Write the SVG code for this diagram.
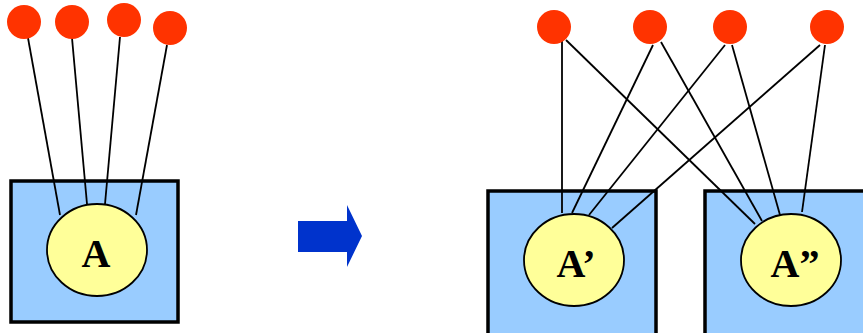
<svg xmlns="http://www.w3.org/2000/svg" width="863" height="333" viewBox="0 0 863 333">
<style>
.box{fill:#99ccff;stroke:#000;stroke-width:3.5}
.ell{fill:#ffff99;stroke:#000;stroke-width:1.8}
.dot{fill:#ff3300}
.lbl{font-family:"Liberation Serif","Times New Roman",serif;font-weight:bold;font-size:40px;fill:#000;text-anchor:middle}
.con line{stroke:#000;stroke-width:1.8}
</style>
<rect width="863" height="333" fill="#fff"/>
<g id="boxA"><rect class="box" x="11" y="181" width="167" height="141"/></g>
<g id="boxA1"><rect class="box" x="488" y="191" width="168" height="150"/></g>
<g id="boxA2"><rect class="box" x="705" y="191" width="168" height="150"/></g>
<g id="connectors" class="con">
<line x1="28" y1="38" x2="60" y2="215"/>
<line x1="72" y1="38" x2="87" y2="204"/>
<line x1="120" y1="37" x2="105" y2="204"/>
<line x1="167" y1="45" x2="136" y2="215"/>
<line x1="562" y1="40" x2="562" y2="213"/>
<line x1="566" y1="40" x2="755" y2="224"/>
<line x1="653" y1="45" x2="572" y2="213"/>
<line x1="661" y1="42" x2="762" y2="221"/>
<line x1="725" y1="45" x2="589" y2="215"/>
<line x1="732" y1="45" x2="780" y2="215"/>
<line x1="820" y1="45" x2="612" y2="228"/>
<line x1="825" y1="45" x2="802" y2="212"/>
</g>
<g id="nodeA"><ellipse class="ell" cx="97" cy="250" rx="50" ry="46"/><text class="lbl" x="96" y="267">A</text></g>
<g id="nodeA1"><ellipse class="ell" cx="574" cy="260" rx="50" ry="46"/><text class="lbl" x="576" y="277">A’</text></g>
<g id="nodeA2"><ellipse class="ell" cx="791" cy="260" rx="50" ry="46"/><text class="lbl" x="795" y="277">A”</text></g>
<g id="d1"><circle class="dot" cx="24" cy="22" r="17"/></g>
<g id="d2"><circle class="dot" cx="72" cy="22" r="17"/></g>
<g id="d3"><circle class="dot" cx="124" cy="20" r="17"/></g>
<g id="d4"><circle class="dot" cx="170" cy="28" r="17"/></g>
<g id="d5"><circle class="dot" cx="554" cy="27" r="17"/></g>
<g id="d6"><circle class="dot" cx="650" cy="27" r="17"/></g>
<g id="d7"><circle class="dot" cx="730" cy="27" r="17"/></g>
<g id="d8"><circle class="dot" cx="827" cy="27" r="17"/></g>
<g id="arrow"><polygon points="298,221 347,221 347,205 362,236 347,267 347,252 298,252" fill="#0033cc"/></g>
</svg>
